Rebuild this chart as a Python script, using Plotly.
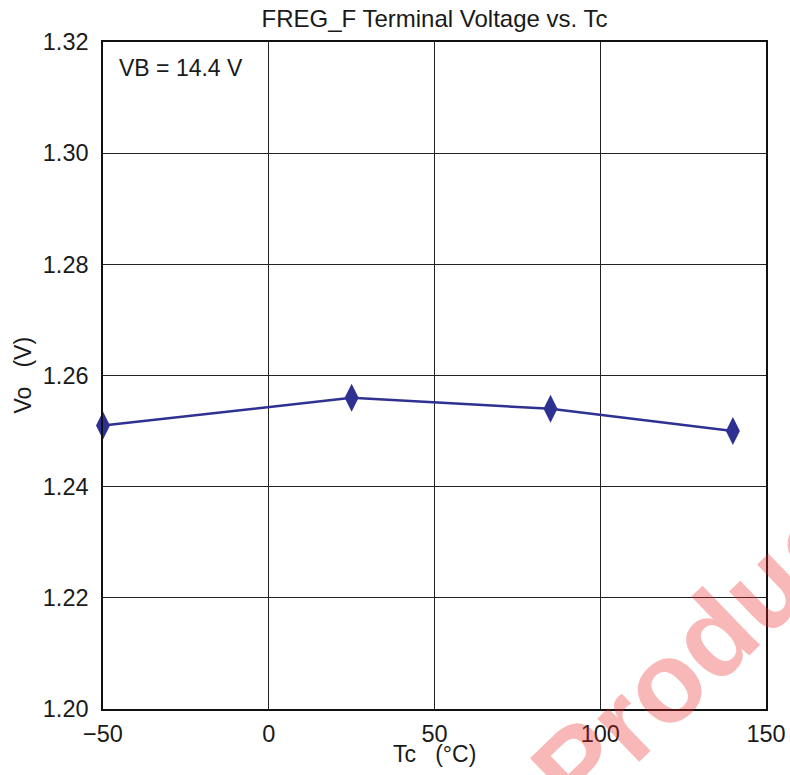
import plotly.graph_objects as go

# Data
tc_values = [-50, 25, 85, 140]
vo_values = [1.251, 1.256, 1.254, 1.250]
x_ticks = [-50, 0, 50, 100, 150]
y_ticks = [1.20, 1.22, 1.24, 1.26, 1.28, 1.30, 1.32]

title_text = "FREG_F Terminal Voltage vs. Tc"
note_text = "VB = 14.4 V"
x_title = "Tc\u00a0\u00a0\u00a0(°C)"
y_title = "Vo\u00a0\u00a0\u00a0(V)"

FONT = "Liberation Sans, Arial, sans-serif"
BLUE = "#2E3192"
TXT = "#1a1a1a"

W, H = 790, 775

fig = go.Figure()
fig.add_trace(go.Scatter(
    x=tc_values, y=vo_values, mode="lines+markers",
    line=dict(color=BLUE, width=2.5),
    marker=dict(symbol="diamond-tall", size=20, color=BLUE, line=dict(width=0)),
    cliponaxis=False, showlegend=False,
))

axis_common = dict(
    showgrid=True, gridcolor="#222222", gridwidth=1,
    showline=True, linecolor="#111111", linewidth=1.5, mirror=True,
    ticks="", zeroline=False, automargin=False,
    tickfont=dict(family=FONT, size=23.5, color=TXT),
)

fig.update_xaxes(range=[-50, 150], tickvals=x_ticks, ticklabelstandoff=3,
                 ticklabeloverflow="allow", **axis_common)
fig.update_yaxes(range=[1.20, 1.32], tickvals=y_ticks, tickformat=".2f", ticklabelstandoff=8, **axis_common)

fig.update_layout(
    width=W, height=H,
    margin=dict(l=103, r=24, t=42, b=66, autoexpand=False),
    paper_bgcolor="white", plot_bgcolor="white",
    title=dict(text=title_text, x=0.5, xref="paper", y=1 - 19 / H, yref="container",
               xanchor="center", yanchor="middle",
               font=dict(family=FONT, size=24, color=TXT)),
    annotations=[
        dict(text=note_text, xref="paper", yref="paper", x=0.021, y=0.983,
             xanchor="left", yanchor="top", showarrow=False,
             font=dict(family=FONT, size=23, color=TXT)),
        dict(text=x_title, xref="paper", yref="paper", x=0.5, y=-0.068,
             xanchor="center", yanchor="middle", showarrow=False,
             font=dict(family=FONT, size=23, color=TXT)),
        dict(text=y_title, xref="paper", yref="paper", x=-0.122, y=0.5,
             xanchor="center", yanchor="middle", showarrow=False, textangle=-90,
             font=dict(family=FONT, size=23, color=TXT)),
        dict(text="<b>Product</b>", xref="x", yref="y", x=132.2, y=1.2121,
             xanchor="center", yanchor="middle", showarrow=False, textangle=-44,
             font=dict(family=FONT, size=114, color="rgba(235,35,35,0.32)")),
    ],
)

fig.write_html(
    "out.html",
    config={"displayModeBar": False},
    post_script="document.body.style.margin='0';document.body.style.overflow='hidden';",
)
